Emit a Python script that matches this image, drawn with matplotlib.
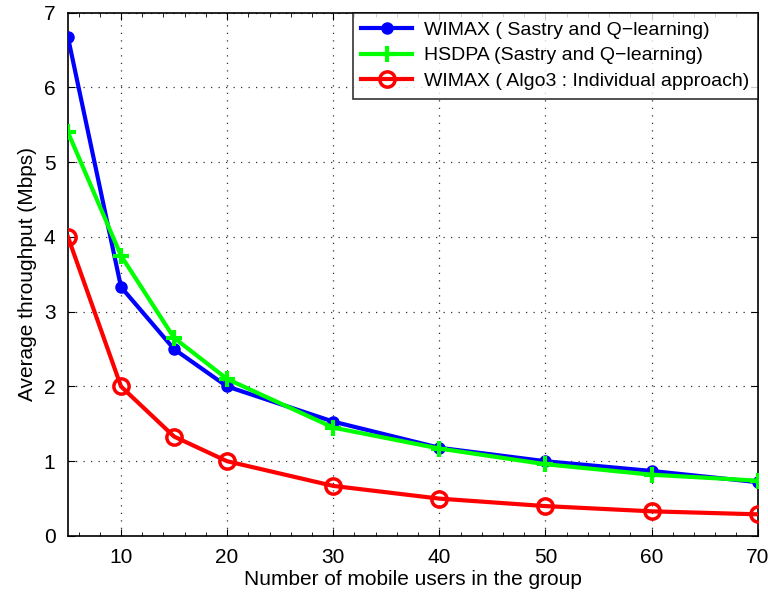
import matplotlib
matplotlib.use("Agg")
import matplotlib.pyplot as plt
from matplotlib.ticker import AutoMinorLocator

plt.rcParams['font.family'] = ['Liberation Sans', 'DejaVu Sans']

users = [5, 10, 15, 20, 30, 40, 50, 60, 70]
wimax_sastry = [6.67, 3.33, 2.5, 2.0, 1.53, 1.18, 1.0, 0.87, 0.72]
hsdpa_sastry = [5.4, 3.75, 2.65, 2.1, 1.45, 1.17, 0.96, 0.82, 0.74]
wimax_algo3 = [4.0, 2.0, 1.33, 1.0, 0.67, 0.5, 0.4, 0.33, 0.29]

labels = ["WIMAX ( Sastry and Q\u2212learning)",
          "HSDPA (Sastry and Q\u2212learning)",
          "WIMAX ( Algo3 : Individual approach)"]
xticks = [10, 20, 30, 40, 50, 60, 70]
yticks = [0, 1, 2, 3, 4, 5, 6, 7]

fig = plt.figure(figsize=(7.68, 5.92), dpi=100)
ax = fig.add_axes([0.0885, 0.0946, 0.898, 0.884])

ax.plot(users, wimax_sastry, color='#0000ff', lw=3, marker='o', ms=8,
        label=labels[0], zorder=3)
ax.plot(users, hsdpa_sastry, color='#00ff00', lw=3, marker='+', ms=11, mew=3,
        label=labels[1], zorder=4)
ax.plot(users, wimax_algo3, color='#ff0000', lw=3, marker='o', ms=11,
        mfc='none', mew=2.5, label=labels[2], zorder=5)

ax.set_xlim(5, 70)
ax.set_ylim(0, 7)
ax.set_xticks(xticks)
ax.set_yticks(yticks)
ax.xaxis.set_minor_locator(AutoMinorLocator(5))
ax.grid(True, which='major', color='#333333', linestyle=(0, (1, 5)), lw=0.9)
ax.tick_params(which='both', direction='in', top=True, right=True,
               labelsize=15, colors='black')
ax.tick_params(which='major', length=5, pad=9)
ax.tick_params(which='minor', length=3)
for s in ax.spines.values():
    s.set_linewidth(1.2)

ax.set_xlabel("Number of mobile users in the group", fontsize=15, labelpad=2)
ax.set_ylabel("Average throughput (Mbps)", fontsize=15, labelpad=5)

leg = ax.legend(loc='upper right', fontsize=14, frameon=True, fancybox=False,
                edgecolor='black', borderaxespad=0, handlelength=2.6,
                handletextpad=0.6, borderpad=0.45, labelspacing=0.4)
leg.get_frame().set_linewidth(1.2)

fig.savefig("out.png", dpi=100)
